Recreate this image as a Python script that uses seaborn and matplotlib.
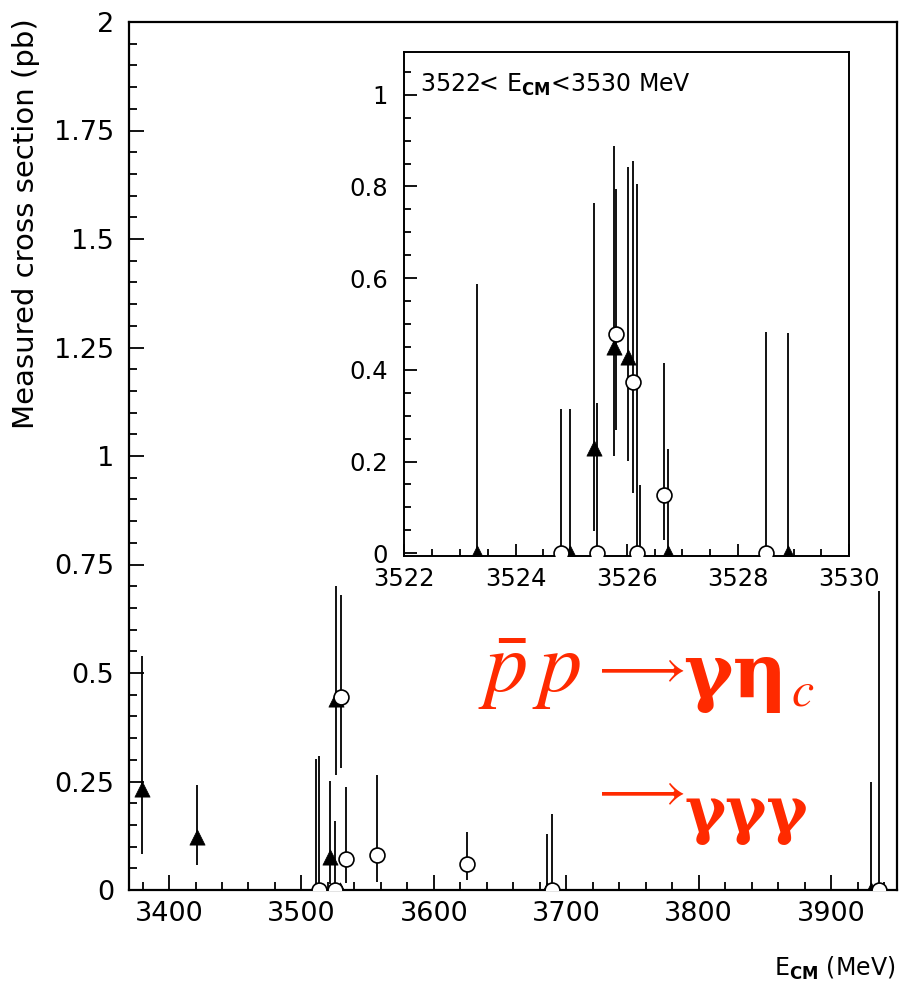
import numpy as np
import pandas as pd
import seaborn as sns
import matplotlib
matplotlib.use("Agg")
import matplotlib.pyplot as plt
from matplotlib.ticker import MultipleLocator, FuncFormatter

# ---------------- data (main panel) ----------------
tri_x = [3379.3, 3420.8, 3510.7, 3521.2, 3525.8, 3529.3, 3685.3, 3930.2]
tri_y = [0.232, 0.121, 0.0, 0.075, 0.440, 0.0, 0.0, 0.0]
tri_lo = [0.083, 0.057, 0.0, 0.014, 0.265, 0.0, 0.0, 0.0]
tri_hi = [0.540, 0.242, 0.302, 0.252, 0.700, 0.0, 0.130, 0.248]

cir_x = [3513.2, 3525.0, 3530.0, 3533.3, 3557.2, 3624.7, 3689.5, 3936.5]
cir_y = [0.0, 0.0, 0.444, 0.071, 0.080, 0.059, 0.0, 0.0]
cir_lo = [0.0, 0.0, 0.280, 0.015, 0.018, 0.022, 0.0, 0.0]
cir_hi = [0.309, 0.159, 0.679, 0.238, 0.265, 0.134, 0.175, 0.688]

# ---------------- data (inset 3522-3530 MeV) ----------------
itri_x = [3523.30, 3524.98, 3525.41, 3525.77, 3526.03, 3526.23, 3526.74, 3528.90]
itri_y = [0.0, 0.0, 0.230, 0.449, 0.427, 0.0, 0.0, 0.0]
itri_lo = [0.0, 0.0, 0.049, 0.212, 0.202, 0.0, 0.0, 0.0]
itri_hi = [0.587, 0.314, 0.765, 0.889, 0.842, 0.149, 0.227, 0.480]

icir_x = [3524.82, 3525.47, 3525.80, 3526.11, 3526.19, 3526.67, 3528.51]
icir_y = [0.0, 0.0, 0.478, 0.373, 0.0, 0.127, 0.0]
icir_lo = [0.0, 0.0, 0.269, 0.132, 0.0, 0.028, 0.0]
icir_hi = [0.314, 0.327, 0.794, 0.856, 0.805, 0.414, 0.483]

main_xticks = [3400, 3500, 3600, 3700, 3800, 3900]
main_yticks = [0, 0.25, 0.5, 0.75, 1, 1.25, 1.5, 1.75, 2]
inset_xticks = [3522, 3524, 3526, 3528, 3530]
inset_yticks = [0, 0.2, 0.4, 0.6, 0.8, 1]

# ---------------- style ----------------
sns.set_theme(style="ticks")
plt.rcParams["font.family"] = ["DejaVu Sans"]
plt.rcParams["text.color"] = "black"
plt.rcParams["mathtext.fontset"] = "custom"
plt.rcParams["mathtext.rm"] = "DejaVu Sans"
plt.rcParams["mathtext.bf"] = "DejaVu Sans:bold"
plt.rcParams["mathtext.it"] = "DejaVu Sans:italic"

fig = plt.figure(figsize=(8.99, 9.86), dpi=100)
W, H = 899, 986


def fx(px):
    return px / W


def fy(py):
    return 1 - py / H


fmt = FuncFormatter(lambda v, p: f"{v:g}")


def draw(ax, tx, ty, tlo, thi, cx, cy, clo, chi, ms_t, ms_c, lw):
    ax.vlines(tx, tlo, thi, color="black", lw=lw, zorder=2)
    ax.vlines(cx, clo, chi, color="black", lw=lw, zorder=2)
    dt = pd.DataFrame({"x": tx, "y": ty})
    dc = pd.DataFrame({"x": cx, "y": cy})
    sns.scatterplot(data=dt, x="x", y="y", marker="^", s=ms_t, color="black",
                    edgecolor="black", linewidth=0.5, ax=ax, zorder=3, legend=False)
    sns.scatterplot(data=dc, x="x", y="y", marker="o", s=ms_c, facecolor="white",
                    edgecolor="black", linewidth=1.2, ax=ax, zorder=4, legend=False)


def style_axes(ax, lw_spine):
    ax.xaxis.set_major_formatter(fmt)
    ax.yaxis.set_major_formatter(fmt)
    ax.tick_params(which="both", direction="in", top=False, right=False, width=1.3,
                   colors="black", labelcolor="black")
    ax.set_xlabel("")
    ax.set_ylabel("")
    for s in ax.spines.values():
        s.set_visible(True)
        s.set_linewidth(lw_spine)
        s.set_color("black")
    ax.set_facecolor("white")


# ---------------- main axes ----------------
ax = fig.add_axes([fx(129.3), fy(890), fx(897.3) - fx(129.3), fy(22) - fy(890)])
draw(ax, tri_x, tri_y, tri_lo, tri_hi, cir_x, cir_y, cir_lo, cir_hi, 120, 115, 1.3)
ax.set_xlim(3370, 3950)
ax.set_ylim(0, 2)
ax.set_xticks(main_xticks)
ax.set_yticks(main_yticks)
ax.xaxis.set_minor_locator(MultipleLocator(20))
ax.yaxis.set_minor_locator(MultipleLocator(0.05))
style_axes(ax, 1.6)
ax.tick_params(which="major", length=11, labelsize=19.5)
ax.tick_params(which="minor", length=6)
ax.tick_params(axis="y", pad=11)
ax.tick_params(axis="x", pad=8)

fig.text(fx(40), fy(18), "Measured cross section (pb)", rotation=90,
         ha="right", va="top", fontsize=21, color="black")
fig.text(fx(895), fy(976), r"E$_{\mathbf{CM}}$ (MeV)", ha="right", va="baseline",
         fontsize=17, color="black")

# red reaction label
red = "#FF2A00"
fig.text(fx(478), fy(692), r"$\bar{p}\,p$", ha="left", va="baseline",
         fontsize=62, color=red, math_fontfamily="stix")
fig.text(fx(637), fy(668), r"$\longrightarrow$", ha="center", va="center",
         fontsize=40, color=red, math_fontfamily="stix")
fig.text(fx(683), fy(697), "γη", ha="left", va="baseline",
         fontsize=54, color=red, family="DejaVu Serif", weight="bold")
fig.text(fx(791), fy(706), r"$c$", ha="left", va="baseline",
         fontsize=36, color=red, math_fontfamily="stix")
fig.text(fx(637), fy(791), r"$\longrightarrow$", ha="center", va="center",
         fontsize=40, color=red, math_fontfamily="stix")
fig.text(fx(808), fy(832), "γγγ", ha="right", va="baseline",
         fontsize=45, color=red, family="DejaVu Serif", weight="bold")

# ---------------- inset ----------------
ai = fig.add_axes([fx(404.3), fy(556), fx(849.3) - fx(404.3), fy(51.7) - fy(556)])
draw(ai, itri_x, itri_y, itri_lo, itri_hi, icir_x, icir_y, icir_lo, icir_hi, 120, 115, 1.3)
ai.set_xlim(3522, 3530)
ai.set_ylim(-0.006, 1.094)
ai.set_xticks(inset_xticks)
ai.set_yticks(inset_yticks)
ai.xaxis.set_minor_locator(MultipleLocator(0.5))
ai.yaxis.set_minor_locator(MultipleLocator(0.05))
style_axes(ai, 1.4)
ai.tick_params(which="major", length=9, labelsize=17.5)
ai.tick_params(which="minor", length=5)
ai.tick_params(axis="y", pad=12)
ai.tick_params(axis="x", pad=8)
ai.text(0.035, 0.96, r"3522< E$_{\mathbf{CM}}$<3530 MeV", transform=ai.transAxes,
        ha="left", va="top", fontsize=17, color="black")

fig.savefig("out.png", dpi=100, facecolor="white")
